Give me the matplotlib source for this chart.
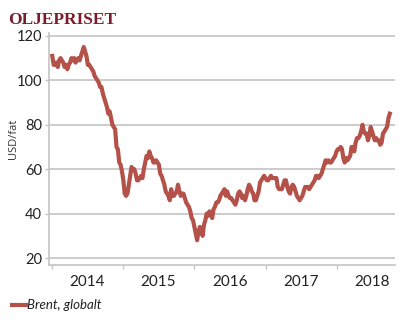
import numpy as np
import pandas as pd
import matplotlib
matplotlib.use("Agg")
import matplotlib.pyplot as plt
import matplotlib.dates as mdates

# Brent, USD per fat, ukentlige noteringer
brent_2014 = [111, 107, 107, 108, 106, 109, 110, 109, 108, 106, 107, 105, 107,
              108, 110, 109, 110, 108, 109, 110, 109, 111, 113, 115, 113, 111,
              107, 107, 106, 105, 104, 102, 101, 100, 99, 97, 97, 94, 92, 90,
              88, 85, 86, 83, 80, 79, 78, 70, 69, 63, 62, 59]
brent_2015 = [55, 49, 48, 49, 53, 57, 61, 60, 60, 58, 55, 55, 56, 57, 56, 60,
              63, 66, 65, 68, 66, 65, 63, 63, 64, 63, 62, 58, 57, 55, 53, 50,
              49, 48, 46, 51, 48, 48, 49, 50, 53, 50, 48, 49, 49, 47, 45, 44,
              43, 41, 38, 37]
brent_2016 = [34, 31, 28, 32, 34, 33, 30, 35, 37, 40, 39, 41, 40, 38, 42, 43,
              45, 45, 46, 48, 49, 50, 51, 48, 50, 48, 47, 47, 46, 45, 44, 46,
              49, 50, 49, 47, 48, 46, 48, 51, 53, 52, 50, 49, 46, 46, 48, 50,
              54, 55, 56, 57]
brent_2017 = [56, 55, 55, 56, 57, 56, 56, 56, 56, 52, 51, 51, 51, 53, 55, 55,
              52, 50, 49, 52, 53, 52, 50, 48, 47, 46, 47, 48, 50, 52, 52, 52,
              51, 52, 53, 54, 55, 57, 57, 56, 57, 58, 60, 62, 64, 63, 64, 63,
              63, 64, 65, 66]
brent_2018 = [68, 69, 69, 70, 69, 65, 63, 65, 64, 65, 66, 70, 70, 68, 72, 74,
              74, 75, 77, 80, 77, 76, 76, 73, 75, 79, 77, 75, 73, 74, 73, 73,
              71, 72, 76, 77, 78, 79, 83, 85]

brent = brent_2014 + brent_2015 + brent_2016 + brent_2017 + brent_2018
dates = pd.date_range("2014-01-03", periods=len(brent), freq="7D")
years = [2014, 2015, 2016, 2017, 2018]

red = "#b4524a"
grey = "#c4c4c4"

fig = plt.figure(figsize=(4.15, 3.26), dpi=100)
ax = fig.add_axes([0.118, 0.187, 0.834, 0.712])

ax.plot(dates, brent, color=red, lw=3.0, solid_joinstyle="round")

ax.set_ylim(16.85, 121.35)
ax.set_xlim(pd.Timestamp("2013-12-17"), pd.Timestamp("2018-10-25"))
ax.set_yticks([20, 40, 60, 80, 100, 120])
ax.grid(axis="y", color=grey, lw=1.2)
ax.set_axisbelow(True)

ax.set_xticks([pd.Timestamp(f"{y}-01-01") for y in years])
ax.set_xticklabels([])
ax.set_xticks([pd.Timestamp(f"{y}-07-01") for y in years], minor=True)
ax.set_xticklabels([str(y) for y in years], minor=True)
ax.tick_params(axis="x", which="major", length=3, color=grey, width=1)
ax.tick_params(axis="x", which="minor", length=0, pad=7, labelsize=11,
               labelcolor="#222222")
ax.tick_params(axis="y", length=3, color=grey, width=1, labelsize=10.5,
               labelcolor="#222222", pad=2)
for lab in ax.get_xticklabels(minor=True) + ax.get_yticklabels():
    lab.set_family("Lato")

for s in ["top", "right"]:
    ax.spines[s].set_visible(False)
for s in ["left", "bottom"]:
    ax.spines[s].set_color(grey)
    ax.spines[s].set_linewidth(1.2)

ax.set_ylabel("USD/fat", family="Open Sans", fontsize=8, color="#333333")
ax.yaxis.set_label_coords(-0.088, 0.545)

fig.text(0.02, 0.925, "OLJEPRISET", family="Liberation Serif",
         fontweight="bold", fontsize=12.5, color="#7a1c2c")

fig.lines.append(plt.Line2D([12 / 415, 26 / 415], [1 - 305 / 326] * 2,
                            transform=fig.transFigure, color=red, lw=3))
fig.text(27 / 415, 1 - 305 / 326, "Brent, globalt", family="Lato",
         style="italic", fontsize=9.5, color="#222222", va="center")

fig.savefig("out.png", dpi=100)
